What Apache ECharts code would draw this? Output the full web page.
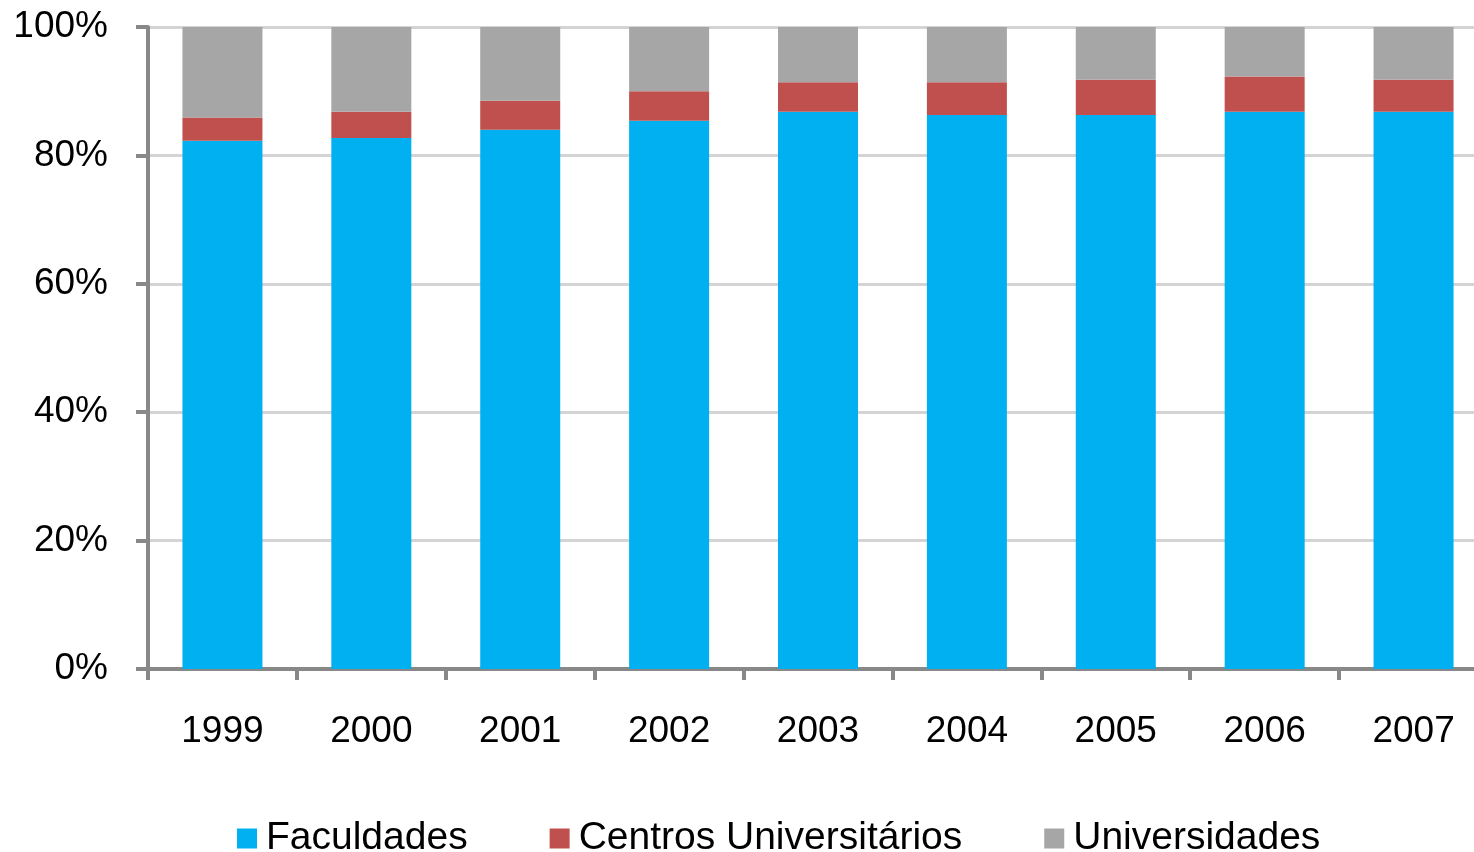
<!DOCTYPE html>
<html>
<head>
<meta charset="utf-8">
<title>Faculdades / Centros Universitários / Universidades</title>
<script src="https://cdn.jsdelivr.net/npm/echarts@6/dist/echarts.min.js"></script>
<style>
	html, body { margin: 0; padding: 0; background: #fff; }
	#chart { width: 1474px; height: 852px; }
</style>
</head>
<body>
<div id="chart"></div>
<script>
	// anos
	var anos = ['1999', '2000', '2001', '2002', '2003', '2004', '2005', '2006', '2007'];
	// participação (%)
	var faculdades = [82.3, 82.7, 84.0, 85.4, 86.8, 86.3, 86.3, 86.8, 86.8];
	var centros = [3.6, 4.1, 4.5, 4.6, 4.6, 5.1, 5.5, 5.5, 5.0];
	var universidades = [14.1, 13.2, 11.5, 10.0, 8.6, 8.6, 8.2, 7.7, 8.2];
	var yTicks = [0, 20, 40, 60, 80, 100];

	var chart = echarts.init(document.getElementById('chart'));

	var fonte = 'Liberation Sans, Arial, sans-serif';
	var corEixo = '#888888';

	option = {
		animation: false,
		color: ['#00B0F0', '#C0504D', '#A6A6A6'],
		legend: {
			left: 232,
			top: 814,
			itemWidth: 20,
			itemHeight: 20,
			itemGap: 82,
			icon: 'rect',
			textStyle: {
				fontFamily: fonte,
				fontSize: 39,
				color: '#000',
				padding: [0, 0, 0, 4]
			},
			data: ['Faculdades', 'Centros Universitários', 'Universidades']
		},
		grid: {
			left: 148,
			top: 27,
			width: 1340,
			bottom: 183,
			outerBoundsMode: 'none',
			containLabel: false
		},
		xAxis: {
			type: 'category',
			data: anos,
			axisLine: {
				lineStyle: { color: corEixo, width: 4 }
			},
			axisTick: {
				show: true,
				interval: 0,
				length: 11,
				lineStyle: { color: corEixo, width: 4 }
			},
			axisLabel: {
				margin: 44,
				fontFamily: fonte,
				fontSize: 37,
				color: '#000'
			}
		},
		yAxis: {
			type: 'value',
			min: yTicks[0],
			max: yTicks[yTicks.length - 1],
			interval: 20,
			axisLine: {
				show: true,
				lineStyle: { color: corEixo, width: 4 }
			},
			axisTick: {
				show: true,
				length: 12,
				lineStyle: { color: corEixo, width: 4 }
			},
			splitLine: {
				lineStyle: { color: '#D4D4D4', width: 3 }
			},
			axisLabel: {
				formatter: '{value}%',
				margin: 40,
				fontFamily: fonte,
				fontSize: 37,
				color: '#000'
			}
		},
		series: [{
			name: 'Faculdades',
			type: 'bar',
			stack: 'total',
			barWidth: 80,
			data: faculdades
		}, {
			name: 'Centros Universitários',
			type: 'bar',
			stack: 'total',
			barWidth: 80,
			data: centros
		}, {
			name: 'Universidades',
			type: 'bar',
			stack: 'total',
			barWidth: 80,
			data: universidades
		}]
	};

	chart.setOption(option);
</script>
</body>
</html>
